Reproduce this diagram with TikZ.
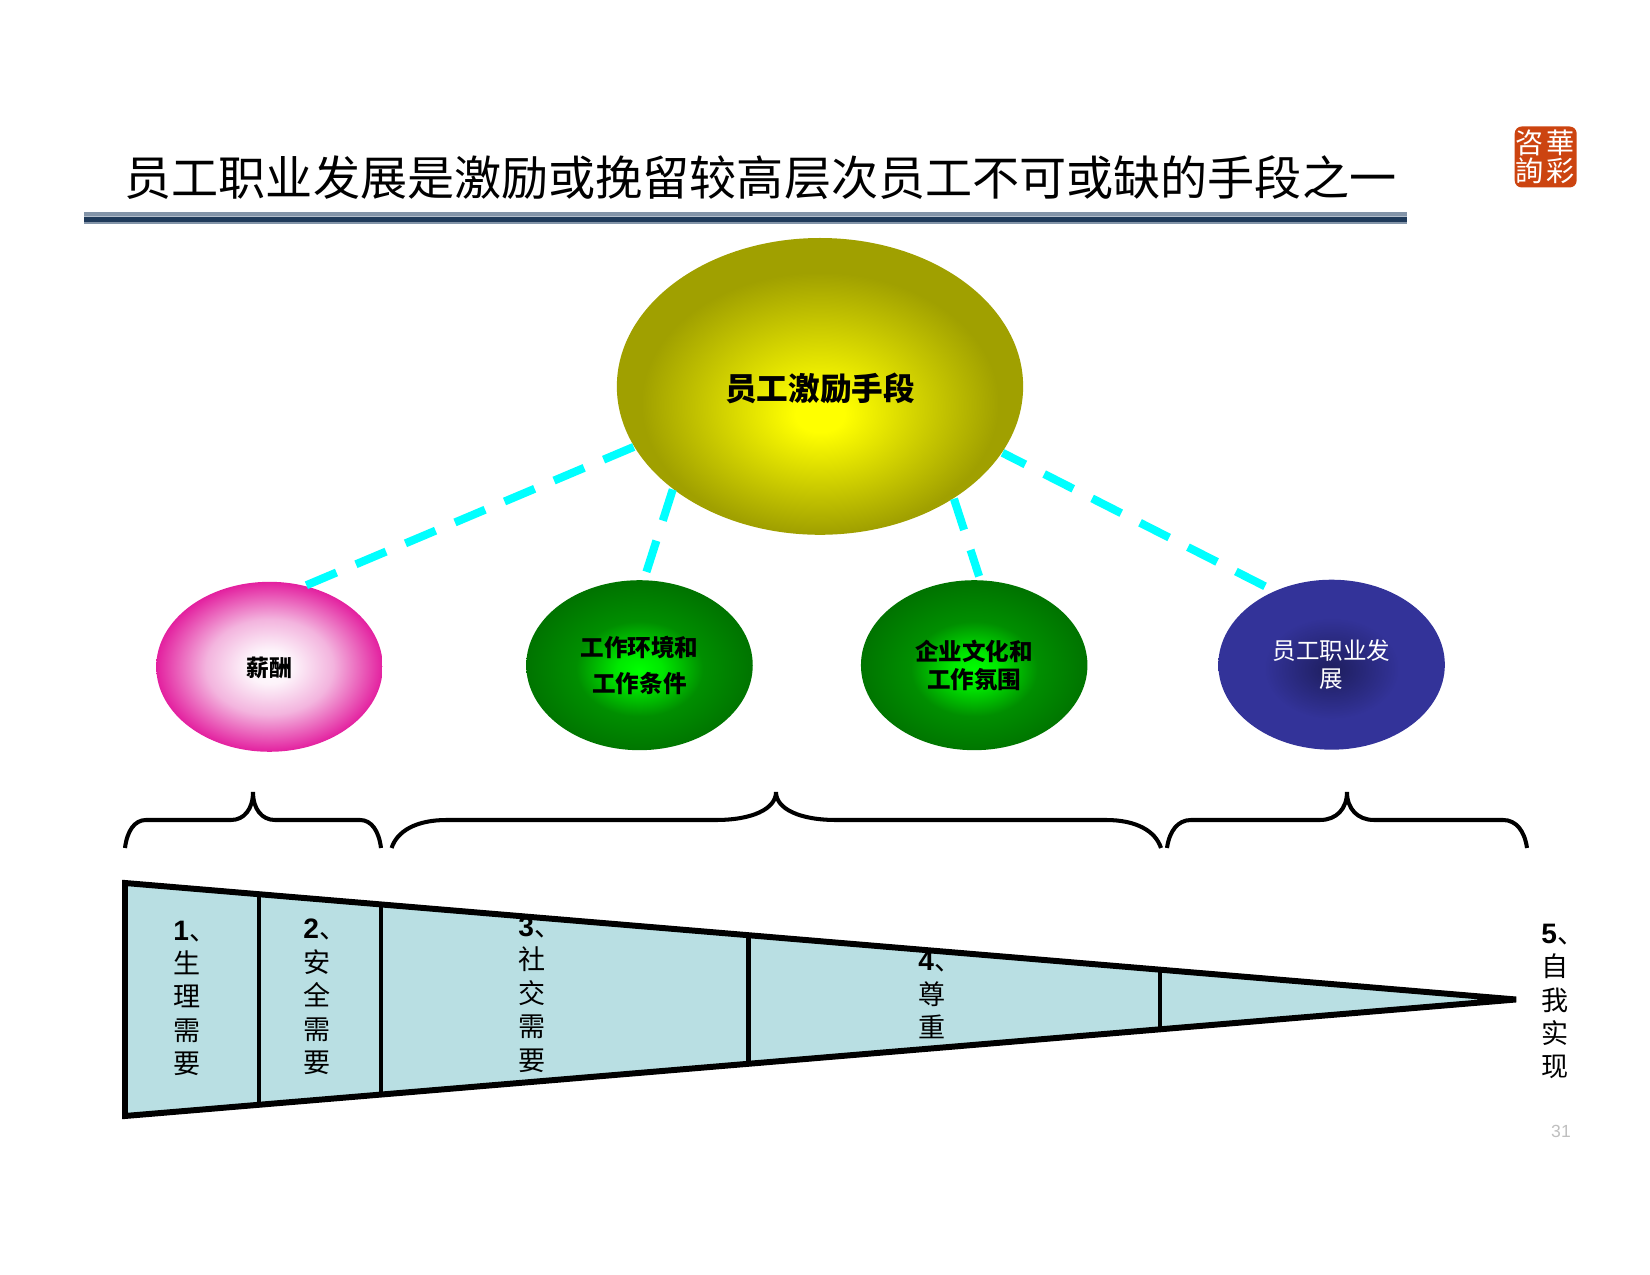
\documentclass[tikz,border=0pt]{standalone}
\usepackage{fontspec}
\setmainfont{Noto Sans CJK SC}
\newfontfamily\digitfont{Liberation Sans}
\usetikzlibrary{calc,shapes.geometric}
\definecolor{wedgefill}{HTML}{B9DFE3}
\definecolor{linkcyan}{HTML}{00FFFF}
\definecolor{sealred}{HTML}{CC4410}
\definecolor{rulenavy}{HTML}{1F3A5A}
\definecolor{rulegrey}{HTML}{8394A8}
\definecolor{rulepale}{HTML}{B4BFCC}
\definecolor{hubedge}{HTML}{A0A000}
\definecolor{paymid}{HTML}{FDF3FA}
\definecolor{paypale}{HTML}{F3B4DE}
\definecolor{payedge}{HTML}{E3209F}
\definecolor{leafcore}{HTML}{00FF00}
\definecolor{leafglow}{HTML}{00E800}
\definecolor{leafmid}{HTML}{008E00}
\definecolor{leafedge}{HTML}{007400}
\definecolor{navycore}{HTML}{1E1E5E}
\definecolor{navyedge}{HTML}{333399}
\pgfdeclareradialshading{hubshade}{\pgfpoint{0bp}{-5bp}}{color(0bp)=(yellow);color(3bp)=(yellow);color(22bp)=(hubedge);color(50bp)=(hubedge)}
\pgfdeclareradialshading{payshade}{\pgfpoint{0bp}{0bp}}{color(0bp)=(white);color(5bp)=(paymid);color(14bp)=(paypale);color(25bp)=(payedge);color(50bp)=(payedge)}
\pgfdeclareradialshading{leafshade}{\pgfpoint{0bp}{-1.5bp}}{color(0bp)=(leafcore);color(5bp)=(leafglow);color(14bp)=(leafmid);color(25bp)=(leafedge);color(50bp)=(leafedge)}
\pgfdeclareradialshading{navyshade}{\pgfpoint{0bp}{-1.5bp}}{color(0bp)=(navycore);color(15bp)=(navyedge);color(50bp)=(navyedge)}
\tikzset{
  ball/.style={ellipse,inner sep=0pt,minimum width=2.265cm,minimum height=1.7cm,align=center},
  link/.style={draw=linkcyan,line width=2.3pt,dash pattern=on 9.3pt off 6pt},
  bracket/.style={draw=black,line width=1.15pt},
  stack/.style={align=center,font=\fontsize{7.7}{9.5}\selectfont},
  leaftext/.style={font=\fontsize{6.7}{7.8}\selectfont}
}
\newcommand{\stepno}[1]{\makebox[1em][l]{{\digitfont\bfseries\fontsize{8}{9.5}\selectfont #1}、}}
\newcommand{\capbrace}[5]{% left, middle, right, corner width, half width of the middle
  \draw[bracket] (#1,4.27) .. controls ({#1+0.1*#4},4.44) and ({#1+0.45*#4},4.55) .. ({#1+#4},4.55)
    -- ({#2-#5},4.55) .. controls ({#2-0.4*#5},4.55) and (#2,4.66) .. (#2,4.83)
    .. controls (#2,4.66) and ({#2+0.4*#5},4.55) .. ({#2+#5},4.55)
    -- ({#3-#4},4.55) .. controls ({#3-0.45*#4},4.55) and ({#3-0.1*#4},4.44) .. (#3,4.27);}
\begin{document}
\begin{tikzpicture}
\useasboundingbox (0,0) rectangle (16.5,12.75);
% title
\node[font=\fontsize{13.4}{16}\selectfont] (title) at (7.605,10.97) {员工职业发展是激励或挽留较高层次员工不可或缺的手段之一};
\fill[rulegrey] (0.84,10.59) rectangle (14.07,10.633);
\fill[rulepale] (0.84,10.58) rectangle (14.07,10.59);
\fill[rulenavy] (0.84,10.525) rectangle (14.07,10.58);
\fill[rulegrey] (0.84,10.51) rectangle (14.07,10.525);
% seal
\node[fill=sealred,rounded corners=2pt,minimum width=0.62cm,minimum height=0.61cm,inner sep=0pt] (seal) at (15.457,11.18) {};
\node[white,font=\fontsize{8}{8}\selectfont,inner sep=0pt,align=center] (sealright) at (15.61,11.18) {華\\彩};
\node[white,font=\fontsize{8}{8}\selectfont,inner sep=0pt,align=center] (sealleft) at (15.30,11.18) {咨\\詢};
% balls
\node[ball,shading=hubshade,minimum width=4.063cm,minimum height=2.968cm,font=\bfseries\fontsize{9}{11}\selectfont] (hub) at (8.20,8.886) {\raisebox{-3.9pt}[0pt][0pt]{员工激励手段}};
\node[ball,shading=payshade,font=\bfseries\fontsize{6.5}{8}\selectfont] (pay) at (2.695,6.082) {\raisebox{-2.9pt}[0pt][0pt]{薪酬}};
\node[ball,shading=leafshade,font=\bfseries\fontsize{6.7}{10.2}\selectfont] (env) at (6.395,6.098) {工作环境和\\工作条件};
\node[ball,shading=leafshade,font=\bfseries\fontsize{6.7}{7.8}\selectfont] (culture) at (9.742,6.098) {企业文化和\\工作氛围};
\node[ball,shading=navyshade,text=white,leaftext] (career) at (13.316,6.103) {员工职业发\\展};
% links
\draw[link] (hub.198.5) -- (pay.66.3);
\draw[link,shorten >=1.6pt] (hub.215.6) -- (env.87);
\draw[link,shorten >=1pt] (hub.-40) -- (culture.86);
\draw[link,dash phase=2pt] (hub.-20.8) -- (career.128);
% braces
\capbrace{1.25}{2.53}{3.81}{0.21}{0.22}
\capbrace{3.916}{7.76}{11.61}{0.55}{0.6}
\capbrace{11.67}{13.47}{15.27}{0.24}{0.27}
% wedge
\coordinate (topleft) at (1.25,3.92);
\coordinate (botleft) at (1.25,1.59);
\coordinate (tip) at (15.16,2.755);
\fill[wedgefill] (topleft) -- (tip) -- (botleft) -- cycle;
\foreach \t in {0.0963,0.1841,0.4482,0.7443}
  \draw[line width=1.2pt] ($(topleft)!\t!(tip)$) -- ($(botleft)!\t!(tip)$);
\draw[line width=1.7pt] (topleft) -- (tip) -- (botleft) -- cycle;
% stages
\node[stack] (first) at (1.87,2.767) {\stepno{1}\\生\\理\\需\\要};
\node[stack] (second) at (3.17,2.78) {\stepno{2}\\安\\全\\需\\要};
\node[stack] (third) at (5.32,2.805) {\stepno{3}\\社\\交\\需\\要};
\node[stack] (fourth) at (9.32,2.80) {\stepno{4}\\尊\\重};
\node[stack] (fifth) at (15.55,2.735) {\stepno{5}\\自\\我\\实\\现};
% page number
\node[text=black!25,font=\digitfont\fontsize{5}{6}\selectfont] (page) at (15.61,1.44) {31};
\end{tikzpicture}
\end{document}
